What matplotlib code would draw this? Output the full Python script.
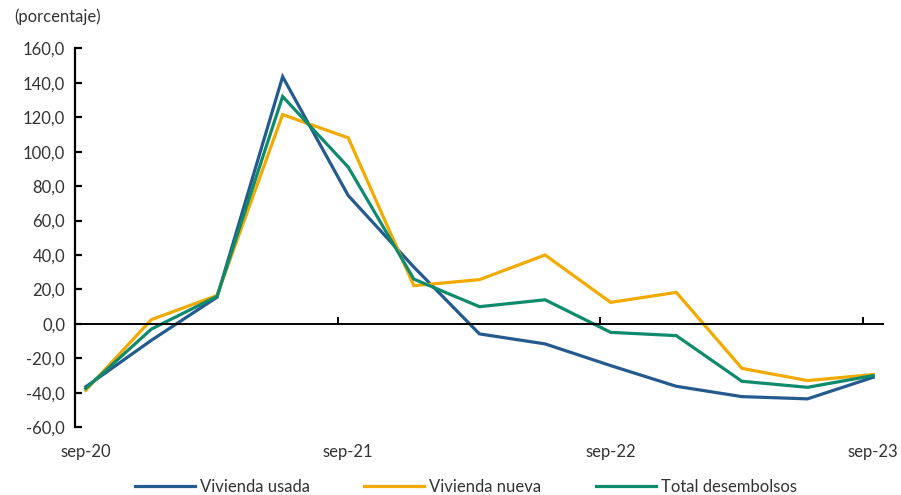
import matplotlib
matplotlib.use("Agg")
import matplotlib.pyplot as plt
import matplotlib.transforms as mtransforms

plt.rcParams['font.family'] = ['Lato', 'DejaVu Sans']

# quarterly series, sep-20 .. sep-23 (13 quarters)
usada = [-36.5, -9.5, 15.5, 143.5, 74.5, 33.0, -5.8, -11.6, -24.2, -36.2, -42.2, -43.5, -31.0]
nueva = [-38.5, 2.5, 16.5, 121.5, 108.0, 22.2, 25.7, 40.0, 12.5, 18.3, -25.8, -32.9, -29.4]
total = [-37.5, -3.0, 16.0, 132.0, 91.0, 26.0, 10.0, 14.0, -4.9, -6.8, -33.3, -36.8, -30.0]

tick_labels = ['sep-20', 'sep-21', 'sep-22', 'sep-23']
label_pos = [0, 4, 8, 12]
yticks = list(range(-60, 161, 20))

c_usada = '#245A8D'
c_nueva = '#F3AA00'
c_total = '#0E8A6C'
txt = '#333333'
fs = 12

fig = plt.figure(figsize=(9.01, 4.95), dpi=100)
ax = fig.add_axes([0.0832, 0.1368, 0.8968, 0.7657])

x = list(range(len(usada)))
ax.plot(x, usada, color=c_usada, lw=2.3, label='Vivienda usada', solid_joinstyle='miter')
ax.plot(x, nueva, color=c_nueva, lw=2.3, label='Vivienda nueva', solid_joinstyle='miter')
ax.plot(x, total, color=c_total, lw=2.3, label='Total desembolsos', solid_joinstyle='miter')

ax.set_xlim(-0.165, 12.15)
ax.set_ylim(-60, 160)

# y axis on the left, x axis crossing at zero
for s in ['top', 'right']:
    ax.spines[s].set_visible(False)
ax.spines['left'].set_linewidth(1.6)
ax.spines['bottom'].set_position(('data', 0))
ax.spines['bottom'].set_linewidth(1.4)

ax.set_yticks(yticks)
ax.set_yticklabels([f'{v:.1f}'.replace('.', ',') for v in yticks], fontsize=fs, color=txt)
ax.tick_params(axis='y', direction='in', length=5, width=1.6, pad=7)

ax.set_xticks([p - 0.16 for p in label_pos])
ax.set_xticklabels([])
ax.tick_params(axis='x', direction='in', length=5, width=1.4)

trans = mtransforms.blended_transform_factory(ax.transData, fig.transFigure)
for p, lab in zip(label_pos, tick_labels):
    ax.text(p, 1 - 452 / 495, lab, transform=trans, ha='center', va='center',
            fontsize=fs, color=txt)

fig.text(14 / 901, 1 - 17 / 495, '(porcentaje)', ha='left', va='center',
         fontsize=fs, color=txt)

fig.legend(loc='center', bbox_to_anchor=(466 / 901, 1 - 487 / 495), ncol=3,
           frameon=False, fontsize=fs, handlelength=3.6, handletextpad=0.3,
           columnspacing=3.25, labelcolor=txt)

fig.savefig('out.png', dpi=100)
